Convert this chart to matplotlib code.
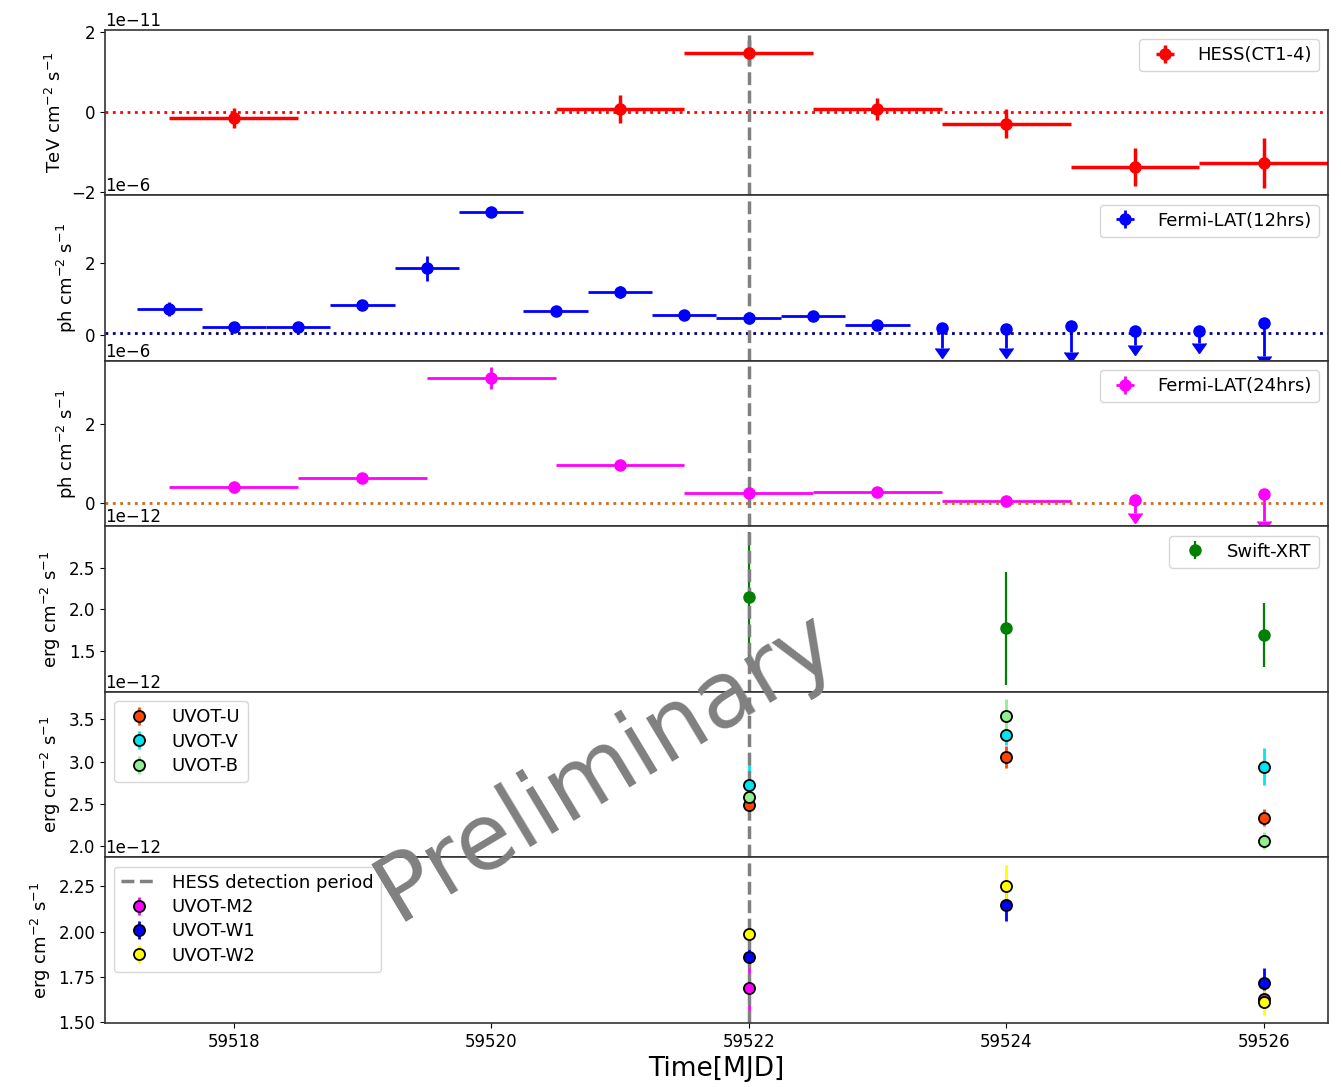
"""
Multi-wavelength light curve, HESS / Fermi-LAT / Swift
"""

import matplotlib.pyplot as plt
import numpy as np

# HESS (CT1-4), daily bins, TeV cm^-2 s^-1
hess_t = [59518, 59521, 59522, 59523, 59524, 59525, 59526]
hess_flux = [-0.15, 0.07, 1.48, 0.07, -0.30, -1.38, -1.29]
hess_err = [0.25, 0.35, 0.32, 0.28, 0.37, 0.48, 0.63]

# Fermi-LAT 12 hr bins, ph cm^-2 s^-1
lat12_t = [59517.5, 59518.0, 59518.5, 59519.0, 59519.5, 59520.0,
           59520.5, 59521.0, 59521.5, 59522.0, 59522.5, 59523.0]
lat12_flux = [0.72, 0.24, 0.24, 0.84, 1.86, 3.43,
              0.66, 1.21, 0.56, 0.49, 0.52, 0.28]
lat12_err = [0.2, 0.1, 0.1, 0.15, 0.35, 0.15,
             0.13, 0.17, 0.13, 0.13, 0.12, 0.08]
lat12_ul_t = [59523.5, 59524.0, 59524.5, 59525.0, 59525.5, 59526.0]
lat12_ul = [0.19, 0.17, 0.25, 0.11, 0.11, 0.33]
lat12_ul_len = [0.55, 0.53, 0.72, 0.39, 0.34, 0.90]

# Fermi-LAT 24 hr bins
lat24_t = [59518, 59519, 59520, 59521, 59522, 59523, 59524]
lat24_flux = [0.41, 0.63, 3.16, 0.96, 0.27, 0.30, 0.06]
lat24_err = [0.08, 0.10, 0.27, 0.08, 0.10, 0.08, 0.07]
lat24_ul_t = [59525, 59526]
lat24_ul = [0.08, 0.25]
lat24_ul_len = [0.33, 0.70]

# Swift-XRT, erg cm^-2 s^-1
xrt_t = [59522, 59524, 59526]
xrt_flux = [2.145, 1.77, 1.69]
xrt_err = [0.78, 0.68, 0.38]

# Swift-UVOT
uvot_t = [59522, 59524, 59526]
uvot_u = [2.49, 3.05, 2.34]
uvot_u_err = [0.04, 0.13, 0.10]
uvot_v = [2.72, 3.31, 2.94]
uvot_v_err = [0.28, 0.12, 0.22]
uvot_b = [2.58, 3.54, 2.07]
uvot_b_err = [0.06, 0.20, 0.10]
uvot_m2_t = [59522, 59526]
uvot_m2 = [1.69, 1.63]
uvot_m2_err = [0.13, 0.05]
uvot_w1 = [1.86, 2.15, 1.72]
uvot_w1_err = [0.05, 0.09, 0.08]
uvot_w2 = [1.99, 2.25, 1.61]
uvot_w2_err = [0.04, 0.12, 0.07]

HESS_DET = 59522

plt.rcParams['font.size'] = 12
plt.rcParams['legend.fontsize'] = 13
plt.rcParams['legend.labelspacing'] = 0.35
plt.rcParams['axes.linewidth'] = 1.2
plt.rcParams['axes.edgecolor'] = '#333333'

fig, axes = plt.subplots(6, 1, sharex=True, figsize=(13.41, 10.87))
fig.subplots_adjust(left=0.0783, right=0.9903, top=0.9724, bottom=0.0589, hspace=0)


def sc(vals, scale):
    return np.array(vals) * scale


def upper_limits(ax, t, vals, lens, scale, color):
    cont = ax.errorbar(t, sc(vals, scale), yerr=sc(lens, scale), uplims=True,
                       fmt='o', color=color, ms=8, elinewidth=2)
    for cap in cont[1]:
        cap.set_markersize(10)


# HESS
ax = axes[0]
ax.errorbar(hess_t, sc(hess_flux, 1e-11), xerr=0.5, yerr=sc(hess_err, 1e-11),
            fmt='o', color='red', ms=8, elinewidth=2.5, label='HESS(CT1-4)')
ax.axhline(0, color='red', ls=':', lw=2)
ax.set_ylim(-2.1e-11, 2.05e-11)
ax.set_yticks([-2e-11, 0, 2e-11])
ax.set_ylabel(r'TeV cm$^{-2}$ s$^{-1}$', fontsize=13)
ax.legend(loc='upper right')

# Fermi-LAT 12 hrs
ax = axes[1]
ax.errorbar(lat12_t, sc(lat12_flux, 1e-6), xerr=0.25, yerr=sc(lat12_err, 1e-6),
            fmt='o', color='blue', ms=8, elinewidth=2, label='Fermi-LAT(12hrs)')
upper_limits(ax, lat12_ul_t, lat12_ul, lat12_ul_len, 1e-6, 'blue')
ax.axhline(0.05e-6, color='navy', ls=':', lw=2)
ax.set_ylim(-0.72e-6, 3.89e-6)
ax.set_yticks([0, 2e-6])
ax.set_ylabel(r'ph cm$^{-2}$ s$^{-1}$', fontsize=13)
ax.legend(loc='upper right')

# Fermi-LAT 24 hrs
ax = axes[2]
ax.errorbar(lat24_t, sc(lat24_flux, 1e-6), xerr=0.5, yerr=sc(lat24_err, 1e-6),
            fmt='o', color='magenta', ms=8, elinewidth=2, label='Fermi-LAT(24hrs)')
upper_limits(ax, lat24_ul_t, lat24_ul, lat24_ul_len, 1e-6, 'magenta')
ax.axhline(0, color='chocolate', ls=':', lw=2)
ax.set_ylim(-0.58e-6, 3.59e-6)
ax.set_yticks([0, 2e-6])
ax.set_ylabel(r'ph cm$^{-2}$ s$^{-1}$', fontsize=13)
ax.legend(loc='upper right')

# Swift-XRT
ax = axes[3]
ax.errorbar(xrt_t, sc(xrt_flux, 1e-12), yerr=sc(xrt_err, 1e-12),
            fmt='o', color='green', ms=8, elinewidth=1.6, label='Swift-XRT')
ax.set_ylim(1.005e-12, 2.995e-12)
ax.set_yticks([1.5e-12, 2.0e-12, 2.5e-12])
ax.set_ylabel(r'erg cm$^{-2}$ s$^{-1}$', fontsize=13)
ax.legend(loc='upper right')

# UVOT optical
ax = axes[4]
for vals, errs, col, lab in [(uvot_u, uvot_u_err, 'orangered', 'UVOT-U'),
                             (uvot_v, uvot_v_err, '#00e5ee', 'UVOT-V'),
                             (uvot_b, uvot_b_err, 'lightgreen', 'UVOT-B')]:
    ax.errorbar(uvot_t, sc(vals, 1e-12), yerr=sc(errs, 1e-12), fmt='o',
                color=col, mec='black', mew=1.3, ms=8, elinewidth=2, label=lab)
ax.set_ylim(1.87e-12, 3.82e-12)
ax.set_yticks([2.0e-12, 2.5e-12, 3.0e-12, 3.5e-12])
ax.set_ylabel(r'erg cm$^{-2}$ s$^{-1}$', fontsize=13)
ax.legend(loc='upper left')

# UVOT UV
ax = axes[5]
ax.errorbar(uvot_m2_t, sc(uvot_m2, 1e-12), yerr=sc(uvot_m2_err, 1e-12), fmt='o',
            color='magenta', mec='black', mew=1.3, ms=8, elinewidth=2, label='UVOT-M2')
ax.errorbar(uvot_t, sc(uvot_w1, 1e-12), yerr=sc(uvot_w1_err, 1e-12), fmt='o',
            color='blue', mec='black', mew=1.3, ms=8, elinewidth=2, label='UVOT-W1')
ax.errorbar(uvot_t, sc(uvot_w2, 1e-12), yerr=sc(uvot_w2_err, 1e-12), fmt='o',
            color='yellow', mec='black', mew=1.3, ms=8, elinewidth=2, label='UVOT-W2')
ax.set_ylim(1.497e-12, 2.41e-12)
ax.set_yticks([1.5e-12, 1.75e-12, 2.0e-12, 2.25e-12])
ax.set_ylabel(r'erg cm$^{-2}$ s$^{-1}$', fontsize=13)

# HESS detection period marker in all panels
for i, ax in enumerate(axes):
    ax.axvline(HESS_DET, color='gray', ls='--', lw=2.5,
               label='HESS detection period' if i == 5 else None)

axes[5].legend(loc='upper left')

axes[5].set_xlim(59517, 59526.5)
axes[5].set_xticks([59518, 59520, 59522, 59524, 59526])
axes[5].xaxis.get_major_formatter().set_useOffset(False)
axes[5].set_xlabel('Time[MJD]', fontsize=19)

fig.text(0.452, 0.295, 'Preliminary', rotation=31, fontsize=66, color='gray',
         ha='center', va='center')

plt.savefig('out.png', dpi=100)
